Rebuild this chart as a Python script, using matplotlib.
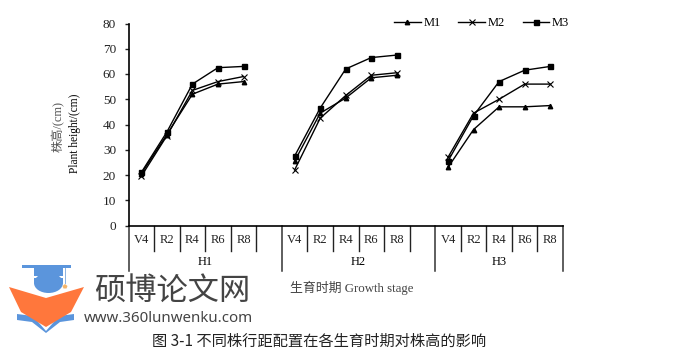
# -*- coding: utf-8 -*-
import matplotlib
matplotlib.use("Agg")
import matplotlib.pyplot as plt
from matplotlib.patches import Polygon, Ellipse, Rectangle

plt.rcParams['font.family'] = ['Liberation Serif', 'Noto Sans CJK SC']

# 生育时期
stages = ["V4", "R2", "R4", "R6", "R8"]
groups = ["H1", "H2", "H3"]
y_ticks = [0, 10, 20, 30, 40, 50, 60, 70, 80]

m1_h1 = [20.5, 36, 52, 56, 57]
m1_h2 = [25.5, 44.5, 50.5, 58.5, 59.5]
m1_h3 = [23, 38, 47, 47, 47.5]
m2_h1 = [19.5, 35.5, 53.5, 57, 59]
m2_h2 = [22, 42.5, 51.5, 59.5, 60.5]
m2_h3 = [27, 44.5, 50, 56, 56]
m3_h1 = [21, 37, 56, 62.5, 63]
m3_h2 = [27.5, 46.5, 62, 66.5, 67.5]
m3_h3 = [25.5, 43.5, 57, 61.5, 63]

W, H = 675, 355
fig = plt.figure(figsize=(W / 100, H / 100), dpi=100)
ax = fig.add_axes([128.5 / W, 1 - 225.5 / H, 434.5 / W, 202 / H])

x1 = [0.5, 1.5, 2.5, 3.5, 4.5]
x2 = [6.5, 7.5, 8.5, 9.5, 10.5]
x3 = [12.5, 13.5, 14.5, 15.5, 16.5]

# 每个处理三段折线，中间断开
for xs, a, b, c in [(x1, m1_h1, m2_h1, m3_h1), (x2, m1_h2, m2_h2, m3_h2), (x3, m1_h3, m2_h3, m3_h3)]:
    l1, = ax.plot(xs, a, color="black", lw=1, marker="^", ms=3.2, label="M1")
    l2, = ax.plot(xs, b, color="black", lw=1, marker="x", ms=4.5, mew=0.8, label="M2")
    l3, = ax.plot(xs, c, color="black", lw=1, marker="s", ms=3.6, label="M3")

ax.set_xlim(0, 17)
ax.set_ylim(0, 80)
ax.set_yticks(y_ticks)
ax.tick_params(axis="y", labelsize=9.5, length=3, width=1, pad=6, colors="#222222")
ax.set_xticks([])
for s in ["top", "right"]:
    ax.spines[s].set_visible(False)
ax.spines["left"].set_linewidth(1.2)
ax.spines["bottom"].set_linewidth(1.2)

# 两层分类轴
trans = ax.get_xaxis_transform()
for i in range(18):
    if i in (0, 6, 12, 17):
        ax.plot([i, i], [0, -0.225], transform=trans, color="#333333", lw=1.1, clip_on=False)
    else:
        ax.plot([i, i], [0, -0.125], transform=trans, color="#222222", lw=1, clip_on=False)
for xs in (x1, x2, x3):
    for x, s in zip(xs, stages):
        ax.text(x, -0.07, s, transform=trans, ha="center", va="center", fontsize=9, color="#222222")
ax.text(3, -0.183, groups[0], transform=trans, ha="center", va="center", fontsize=9)
ax.text(9, -0.183, groups[1], transform=trans, ha="center", va="center", fontsize=9)
ax.text(14.5, -0.183, groups[2], transform=trans, ha="center", va="center", fontsize=9)

ax.legend(handles=[l1, l2, l3], ncol=3, frameon=False, fontsize=9, handlelength=2.1,
          columnspacing=1.4, handletextpad=0.25, loc="upper right",
          bbox_to_anchor=(1.02, 1.045), borderaxespad=0, borderpad=0.2)

# 轴标题
fig.text(58.5 / W, 1 - 126 / H, "株高/(cm)", rotation=90, ha="center", va="center", fontsize=8.8, color="#555555")
fig.text(75 / W, 1 - 133 / H, "Plant height/(cm)", rotation=90, ha="center", va="center", fontsize=8.3, color="black")
fig.text(352 / W, 1 - 288 / H, "生育时期 Growth stage", ha="center", va="center", fontsize=9.3, color="#444444")

# 水印 logo，用像素坐标
logo = fig.add_axes([0, 0, 1, 1], facecolor="none")
logo.set_xlim(0, W)
logo.set_ylim(H, 0)
logo.axis("off")
blue = "#5b95dc"
orange = "#ff773c"
logo.add_patch(Rectangle((22, 265), 49, 3, color=blue, lw=0))
logo.add_patch(Polygon([(34, 268), (63, 268), (63, 276), (34, 276)], color=blue, lw=0))
logo.add_patch(Polygon([(34, 277.5), (63, 277.5), (63, 283), (34, 283)], color=blue, lw=0))
logo.add_patch(Ellipse((48.5, 283), 29, 20, color=blue, lw=0))
logo.add_patch(Rectangle((64.5, 268), 1, 16, color="#8fb4e0", lw=0))
logo.add_patch(Polygon([(62.5, 286), (65, 284), (67.5, 286), (66.5, 288.5), (63.5, 288.5)], color="#f5b56a", lw=0))
logo.add_patch(Polygon([(17, 314), (33, 316), (46, 331), (59, 316), (74, 314), (74, 320), (60, 322), (46, 333),
                        (32, 322), (17, 320)], color="#5b95dc", lw=0))
logo.add_patch(Polygon([(9, 287), (46, 298), (84, 287), (71, 312), (46, 327), (21, 312)], color=orange, lw=0))
logo.text(172, 291, "硕博论文网", family=["Noto Sans CJK SC"], fontsize=22.5, color="#444444", ha="center", va="center")
logo.text(168.5, 318, "www.360lunwenku.com", family=["Noto Sans"], fontsize=10.8, color="#444444", ha="center", va="center")
logo.text(319, 341, "图 3-1 不同株行距配置在各生育时期对株高的影响", family=["Noto Sans CJK SC"], fontsize=11,
          color="#222222", ha="center", va="center")

fig.savefig("out.png", dpi=100)
